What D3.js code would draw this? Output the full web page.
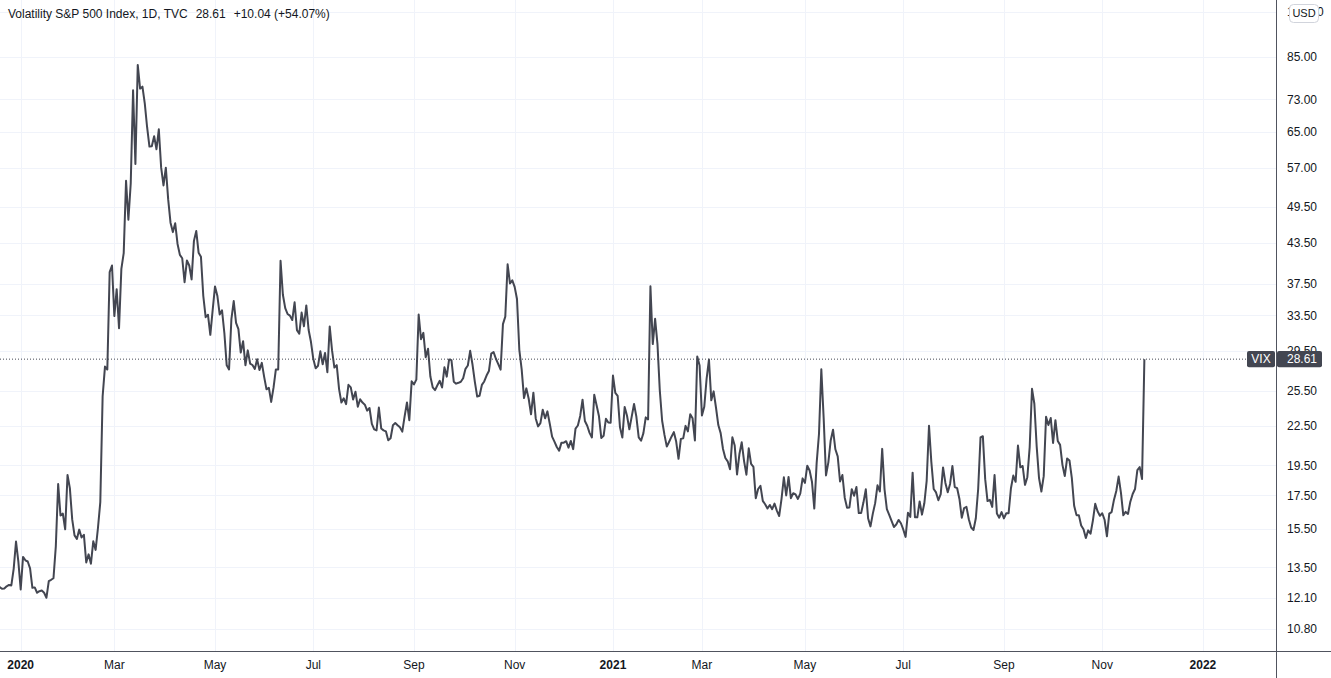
<!DOCTYPE html>
<html><head><meta charset="utf-8">
<script src="https://cdn.jsdelivr.net/npm/d3@7"></script>
<style>
html,body{margin:0;padding:0;background:#fff;}
svg{display:block;font-family:"Liberation Sans",Arial,sans-serif;}
</style></head>
<body><svg id="chart" width="1331" height="678"></svg>
<script>
// ---------------- DATA ----------------
const title = "Volatility S&P 500 Index, 1D, TVC";
const lastClose = 28.61, change = 10.04, changePct = 54.07;
const symbol = "VIX", currency = "USD";

// daily closes, one array per month (trading sessions in order)
const dec2019 = [12.14,12.29,12.58,12.50,12.51,12.61,12.67,12.65,13.43,14.82,13.78]; // from Dec 16
const jan2020 = [12.47,14.02,13.85,13.79,13.45,12.54,12.56,12.32,12.39,12.42,12.32,12.10,12.85,12.91,12.98,14.56,18.23,16.28,16.39,15.49,18.84];
const feb2020 = [17.97,16.05,15.15,14.96,15.47,15.04,15.18,13.74,14.15,13.68,14.83,14.38,15.56,17.08,25.03,27.85,27.56,39.16,40.11];
const mar2020 = [33.42,36.82,31.99,39.62,41.94,54.46,47.30,53.90,75.47,57.83,82.69,75.91,76.45,72.00,66.04,61.59,61.67,63.95,61.00,65.54,57.08,53.54];
const apr2020 = [57.06,50.91,46.80,45.24,46.70,43.35,41.67,41.17,37.76,40.84,40.11,38.15,43.83,45.41,41.98,41.38,35.93,33.29,33.57,31.23,34.15];
const may2020 = [37.19,35.97,33.61,34.12,31.44,27.98,27.57,33.04,35.28,32.61,31.89,29.30,30.53,27.99,29.53,28.16,28.01,27.62,28.59,27.51];
const jun2020 = [28.23,26.84,25.66,25.81,24.52,25.81,27.57,27.57,40.79,36.09,34.40,33.67,33.47,32.94,35.12,31.77,31.37,33.84,32.22,34.73,31.78,30.43];
const jul2020 = [28.62,27.68,27.94,29.43,28.08,29.26,27.29,32.19,29.52,27.76,28.00,25.68,24.46,24.84,24.32,26.08,25.84,24.74,25.44,24.10,24.76,24.46];
const aug2020 = [24.28,23.76,23.99,22.65,22.21,22.13,24.03,22.28,22.13,22.05,21.35,21.51,22.54,22.72,22.54,22.37,22.03,23.27,24.47,22.96,26.41];
const sep2020 = [26.12,26.57,33.60,30.75,31.46,28.81,29.71,26.87,25.85,25.59,26.04,26.46,25.83,27.78,26.86,28.58,28.51,26.38,26.19,26.27,26.37];
const oct2020 = [26.70,27.63,27.96,29.48,28.06,26.36,25.00,25.07,26.07,26.40,26.97,27.41,29.18,29.35,28.65,28.11,27.55,32.46,33.35,40.28,37.59,38.02];
const nov2020 = [37.13,35.55,29.57,27.58,24.86,25.75,24.80,23.45,25.35,23.10,22.45,22.71,23.84,23.11,23.70,22.66,21.64,21.25,20.84,20.57];
const dec2020 = [21.17,21.17,21.28,20.79,21.30,20.68,22.27,22.52,23.31,24.72,22.89,22.50,21.93,21.57,25.16,24.23,23.31,21.53,21.70,23.08,22.77,22.75];
const jan2021 = [26.97,25.34,25.07,22.37,21.56,24.08,23.33,22.21,23.25,24.34,23.24,21.58,21.32,21.91,23.19,23.02,37.21,30.21,33.09];
const feb2021 = [30.24,25.56,22.91,21.77,20.87,21.24,21.63,21.99,21.25,19.97,21.46,21.50,22.49,22.05,23.45,23.11,21.34,28.89,27.95];
const mar2021 = [23.35,24.10,26.67,28.57,24.66,25.47,24.03,22.56,21.91,20.69,20.03,19.79,19.23,21.58,20.95,18.88,20.30,21.20,19.81,18.86,20.74,19.61,19.40];
const apr2021 = [17.33,17.91,18.12,17.16,16.95,16.69,16.91,16.65,16.99,16.57,16.25,17.29,18.68,17.50,18.71,17.33,17.64,17.56,17.28,17.61,18.61];
const may2021 = [18.31,19.48,19.15,18.39,16.69,19.66,21.84,27.59,23.13,18.81,19.72,21.34,22.18,20.67,20.15,18.40,18.84,17.36,16.74,16.76];
const jun2021 = [17.90,17.48,18.04,16.42,16.42,17.07,17.89,16.10,15.65,16.39,17.02,18.15,17.75,20.70,17.89,16.66,16.32,15.97,15.62,15.76,16.02,15.83];
const jul2021 = [15.48,15.07,16.44,16.20,19.00,16.18,16.17,17.12,16.33,17.01,18.45,22.50,19.73,17.91,17.69,17.20,17.58,19.36,18.31,17.70,18.24];
const aug2021 = [19.46,18.04,17.97,17.28,16.15,16.72,16.79,16.06,15.59,15.45,16.12,17.91,21.57,21.67,18.56,17.15,17.22,16.79,18.84,16.39,16.15,16.48];
const sep2021 = [16.11,16.41,16.41,17.96,18.80,18.38,20.95,19.37,19.46,18.18,18.69,20.81,25.71,24.36,20.87,18.63,17.75,18.76,23.25,22.56,23.14];
const oct2021 = [21.15,22.96,21.30,21.00,19.54,18.77,20.00,19.85,18.64,16.86,16.30,16.30,15.70,15.49,15.01,15.43,15.24,15.98,16.98,16.53,16.26];
const nov2021 = [16.41,16.03,15.10,16.39,16.48,17.22,17.78,18.73,17.66,16.29,16.49,16.37,17.11,17.59,17.91,19.17,19.38,18.57,28.61];

const monthKeys  = ["2019-12","2020-01","2020-02","2020-03","2020-04","2020-05","2020-06","2020-07","2020-08","2020-09","2020-10","2020-11","2020-12",
                    "2021-01","2021-02","2021-03","2021-04","2021-05","2021-06","2021-07","2021-08","2021-09","2021-10","2021-11"];
const monthData  = [dec2019,jan2020,feb2020,mar2020,apr2020,may2020,jun2020,jul2020,aug2020,sep2020,oct2020,nov2020,dec2020,
                    jan2021,feb2021,mar2021,apr2021,may2021,jun2021,jul2021,aug2021,sep2021,oct2021,nov2021];
// sessions still to come after the last bar (rest of Nov 2021, Dec 2021)
const upcomingSessions = [2, 22];

const priceTicks = [100,85,73,65,57,49.5,43.5,37.5,33.5,29.5,25.5,22.5,19.5,17.5,15.5,13.5,12.1,10.8];
const timeTickKeys   = ["2020-01","2020-03","2020-05","2020-07","2020-09","2020-11","2021-01","2021-03","2021-05","2021-07","2021-09","2021-11","2022-01"];
const timeTickLabels = ["2020","Mar","May","Jul","Sep","Nov","2021","Mar","May","Jul","Sep","Nov","2022"];

// ---------------- LAYOUT ----------------
const W = 1331, H = 678;
const plotR = 1277, plotB = 651;
const barSpacing = 2.341, firstBarX = 20.7;   // view settings
const priceDomain = [9.985, 104.5];

// build series with session index (Jan 2 2020 = 0)
const series = [];
const monthStart = {};
let idx = -dec2019.length;
monthKeys.forEach((k, mi) => {
  monthStart[k] = idx;
  monthData[mi].forEach(v => { series.push({i: idx, v}); idx++; });
});
monthStart["2022-01"] = idx + d3.sum(upcomingSessions);

const x = d3.scaleLinear()
  .domain([-firstBarX / barSpacing, (plotR - firstBarX) / barSpacing])
  .range([0, plotR]);
const y = d3.scaleLog().domain(priceDomain).range([plotB, 0]);

const svg = d3.select("#chart");
svg.append("rect").attr("width", W).attr("height", H).attr("fill", "#fff");

const defs = svg.append("defs");
defs.append("clipPath").attr("id", "plotclip")
  .append("rect").attr("x", 0).attr("y", 0).attr("width", plotR).attr("height", plotB);

const gridColor = "#f0f3fa";
// horizontal grid
svg.append("g").selectAll("line").data(priceTicks).join("line")
  .attr("x1", 0).attr("x2", plotR)
  .attr("y1", d => Math.round(y(d)) + 0.5).attr("y2", d => Math.round(y(d)) + 0.5)
  .attr("stroke", gridColor).attr("stroke-width", 1);
// vertical grid
const tickIdx = timeTickKeys.map(k => monthStart[k]);
svg.append("g").selectAll("line").data(tickIdx).join("line")
  .attr("x1", d => Math.round(x(d)) + 0.5).attr("x2", d => Math.round(x(d)) + 0.5)
  .attr("y1", 0).attr("y2", plotB)
  .attr("stroke", gridColor).attr("stroke-width", 1);

// last price dotted line
const lineColor = "#434651";
svg.append("line")
  .attr("x1", 0).attr("x2", 1247)
  .attr("y1", y(lastClose)).attr("y2", y(lastClose))
  .attr("stroke", lineColor).attr("stroke-width", 1).attr("stroke-dasharray", "1,2");

// price line
const line = d3.line().x(d => x(d.i)).y(d => y(d.v));
svg.append("path").datum(series)
  .attr("clip-path", "url(#plotclip)")
  .attr("d", line)
  .attr("fill", "none").attr("stroke", lineColor)
  .attr("stroke-width", 2).attr("stroke-linejoin", "round");

// axes lines
const axisColor = "#50535e";
svg.append("line").attr("x1", plotR - 0.5).attr("x2", plotR - 0.5).attr("y1", 0).attr("y2", H)
  .attr("stroke", axisColor).attr("stroke-width", 1);
svg.append("line").attr("x1", 0).attr("x2", W).attr("y1", plotB + 0.5).attr("y2", plotB + 0.5)
  .attr("stroke", axisColor).attr("stroke-width", 1);

// price labels
const textColor = "#131722";
svg.append("g").selectAll("text").data(priceTicks).join("text")
  .attr("x", 1287).attr("y", d => y(d))
  .attr("dy", "0.35em")
  .attr("font-size", 12).attr("fill", textColor)
  .text(d => d3.format(".2f")(d));

// time labels
svg.append("g").selectAll("text").data(timeTickKeys).join("text")
  .attr("x", k => x(monthStart[k])).attr("y", 665)
  .attr("dy", "0.35em").attr("text-anchor", "middle")
  .attr("font-size", 12).attr("fill", textColor)
  .attr("font-weight", (k, i) => /^\d{4}$/.test(timeTickLabels[i]) ? "bold" : "normal")
  .text((k, i) => timeTickLabels[i]);

// USD badge
const usdG = svg.append("g");
usdG.append("rect").attr("x", 1289.5).attr("y", 4.5).attr("width", 29).attr("height", 18)
  .attr("rx", 4).attr("fill", "#fff").attr("stroke", "#d1d4dc");
usdG.append("text").attr("x", 1304).attr("y", 13.5).attr("dy", "0.35em")
  .attr("text-anchor", "middle").attr("font-size", 11).attr("fill", textColor).text(currency);

// last value badges
const yl = y(lastClose);
svg.append("rect").attr("x", 1247).attr("y", yl - 8.2).attr("width", 28).attr("height", 16.4)
  .attr("rx", 2).attr("fill", lineColor);
svg.append("text").attr("x", 1261).attr("y", yl).attr("dy", "0.35em").attr("text-anchor", "middle")
  .attr("font-size", 12).attr("fill", "#fff").text(symbol);
svg.append("rect").attr("x", 1277).attr("y", yl - 8.2).attr("width", 45).attr("height", 16.4)
  .attr("rx", 2).attr("fill", lineColor);
svg.append("text").attr("x", 1287).attr("y", yl).attr("dy", "0.35em")
  .attr("font-size", 12).attr("fill", "#fff").text(d3.format(".2f")(lastClose));

// header
const hdr = svg.append("text").attr("x", 8).attr("y", 14).attr("dy", "0.35em")
  .attr("font-size", 12).attr("fill", textColor);
hdr.append("tspan").text(title);
hdr.append("tspan").attr("dx", 8).text(d3.format(".2f")(lastClose));
hdr.append("tspan").attr("dx", 8).text("+" + d3.format(".2f")(change) + " (+" + d3.format(".2f")(changePct) + "%)");
</script>
</body></html>
